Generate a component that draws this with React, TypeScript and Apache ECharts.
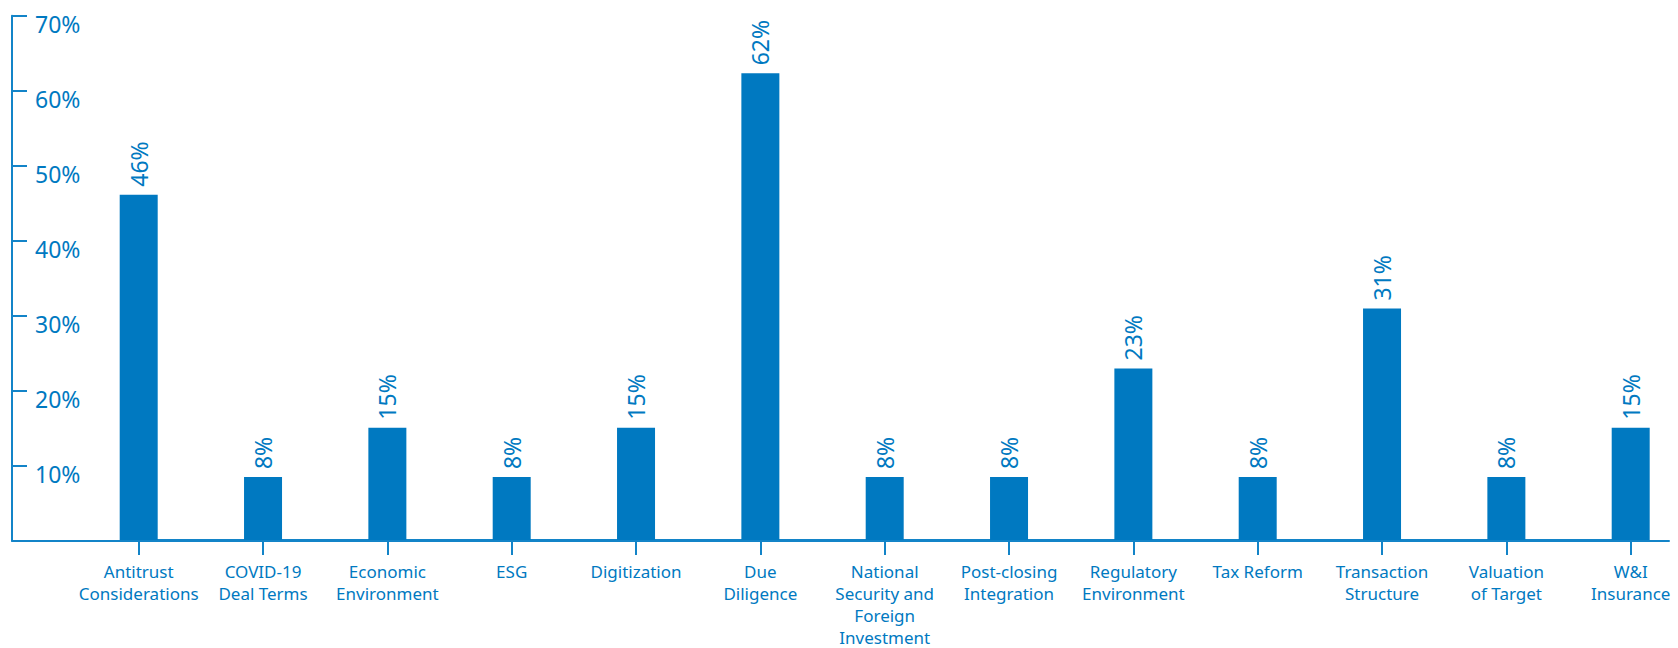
import React, { useEffect, useRef } from "react";
import * as echarts from "echarts";

const categories = [
  "Antitrust\nConsiderations",
  "COVID-19\nDeal Terms",
  "Economic\nEnvironment",
  "ESG",
  "Digitization",
  "Due\nDiligence",
  "National\nSecurity and\nForeign\nInvestment",
  "Post-closing\nIntegration",
  "Regulatory\nEnvironment",
  "Tax Reform",
  "Transaction\nStructure",
  "Valuation\nof Target",
  "W&I\nInsurance",
];
const values = [46.1, 8.4, 15.0, 8.4, 15.0, 62.3, 8.4, 8.4, 22.9, 8.4, 30.9, 8.4, 15.0];
const valueLabels = ["46%", "8%", "15%", "8%", "15%", "62%", "8%", "8%", "23%", "8%", "31%", "8%", "15%"];
const yTicks = { min: 0, max: 70, interval: 10 };

const BLUE = "#0079c1";
const LINE = "#1384c8";
const FONT = "'Noto Sans', sans-serif";

export default function App() {
  const ref = useRef<HTMLDivElement>(null);
  useEffect(() => {
    if (!ref.current) return;
    const chart = echarts.init(ref.current, undefined, { renderer: "svg" });
    const top = 15.7;
    const height = 525;
    chart.setOption({
      animation: false,
      grid: [
        { left: 138.7, right: 47.3, top, height, containLabel: false },
        { left: 12, right: 9, top, height, containLabel: false },
      ],
      xAxis: [
        {
          type: "category",
          gridIndex: 0,
          data: categories,
          boundaryGap: false,
          axisLine: { show: true, lineStyle: { color: LINE, width: 2 } },
          axisTick: { show: true, length: 15, alignWithLabel: true, lineStyle: { color: LINE, width: 2 } },
          axisLabel: {
            interval: 0,
            color: BLUE,
            fontFamily: FONT,
            fontSize: 17,
            lineHeight: 22,
            margin: 20,
          },
          splitLine: { show: false },
        },
        {
          type: "value",
          gridIndex: 1,
          min: 0,
          max: 1,
          axisLine: { show: true, lineStyle: { color: LINE, width: 2 } },
          axisTick: { show: false },
          axisLabel: { show: false },
          splitLine: { show: false },
        },
      ],
      yAxis: [
        {
          type: "value",
          gridIndex: 0,
          ...yTicks,
          show: false,
          splitLine: { show: false },
        },
        {
          type: "value",
          gridIndex: 1,
          ...yTicks,
          axisLine: { show: true, lineStyle: { color: LINE, width: 2 } },
          axisTick: { show: true, inside: true, length: 15, lineStyle: { color: LINE, width: 2 } },
          axisLabel: {
            inside: true,
            margin: 23,
            color: BLUE,
            fontFamily: FONT,
            fontSize: 23,
            verticalAlign: "top",
            padding: [-3, 0, 0, 0],
            showMinLabel: false,
            formatter: (v: number) => (v === 0 ? "" : v + "%"),
          },
          splitLine: { show: false },
        },
      ],
      series: [
        {
          type: "bar",
          xAxisIndex: 0,
          yAxisIndex: 0,
          data: values,
          barWidth: 38,
          itemStyle: { color: BLUE },
          label: {
            show: true,
            position: "top",
            rotate: 90,
            align: "left",
            verticalAlign: "middle",
            distance: 8,
            color: BLUE,
            fontFamily: FONT,
            fontSize: 23,
            formatter: (p: any) => valueLabels[p.dataIndex],
          },
        },
      ],
    });
    return () => chart.dispose();
  }, []);
  return (
    <div
      ref={ref}
      style={{ position: "fixed", left: 0, top: 0, width: 1678, height: 648, background: "#fff" }}
    />
  );
}
